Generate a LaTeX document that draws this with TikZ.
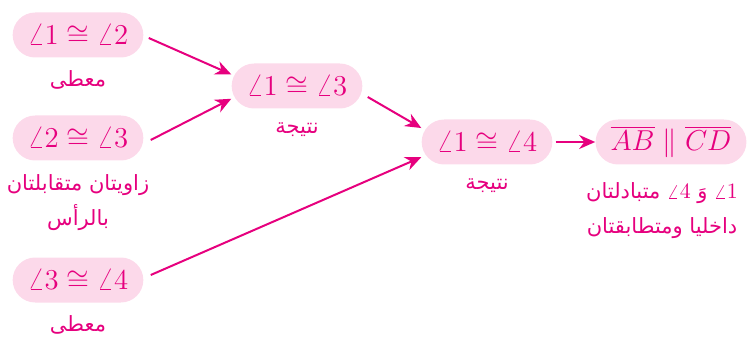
\documentclass[tikz,border=0pt]{standalone}
\usepackage{fontspec}
\TeXXeTstate=1
\newfontfamily\arabicfont[Script=Arabic]{DejaVu Sans}
\usetikzlibrary{arrows.meta,calc}
\definecolor{mag}{RGB}{230,0,126}
\definecolor{pinkfill}{RGB}{252,217,234}
\begin{document}
\begin{tikzpicture}[x=0.5pt,y=-0.5pt,
 stmt/.style={fill=pinkfill, text=mag, rounded corners=11.25pt, minimum height=22.5pt, inner xsep=7.5pt, font=\fontsize{15.5}{18}\selectfont},
 captext/.style={text=mag, align=center, font=\arabicfont\fontsize{10.5}{17.5}\selectfont},
 arr/.style={draw=mag, line width=1pt, -{Stealth[length=8pt,width=7pt]}}]
\useasboundingbox (0,0) rectangle (747,341);
\node[stmt] (b1) at (78,35) {$\angle1\cong\angle2$};
\node[stmt] (b2) at (78,138) {$\angle2\cong\angle3$};
\node[stmt] (b3) at (78,280) {$\angle3\cong\angle4$};
\node[stmt] (b4) at (297,86) {$\angle1\cong\angle3$};
\node[stmt] (b5) at (487,142) {$\angle1\cong\angle4$};
\node[stmt] (b6) at (671,142) {$\overline{AB}\parallel\overline{CD}$};
\node[captext] (c1) at (78,80) {\beginR معطى\endR};
\node[captext] (c2) at (78,203) {\beginR زاويتان متقابلتان\endR\\\beginR بالرأس\endR};
\node[captext] (c3) at (78,325) {\beginR معطى\endR};
\node[captext] (c4) at (297,130) {\beginR نتيجة\endR};
\node[captext] (c5) at (487,186) {\beginR نتيجة\endR};
\node[captext] (c6) at (662,211) {\beginR\beginL$\angle1$\endL{} وَ \beginL$\angle4$\endL{} متبادلتان\endR\\\beginR داخليا ومتطابقتان\endR};
\draw[arr] ($(b1.east)+(5,3)$) -- (b4.170);
\draw[arr] ($(b2.east)+(7,2)$) -- (b4.191);
\draw[arr] ($(b3.east)+(7,-5)$) -- (b5.193);
\draw[arr] ($(b4.east)+(5,11)$) -- (b5.168);
\draw[arr] ($(b5.east)+(3,0)$) -- (b6.west);
\end{tikzpicture}
\end{document}
